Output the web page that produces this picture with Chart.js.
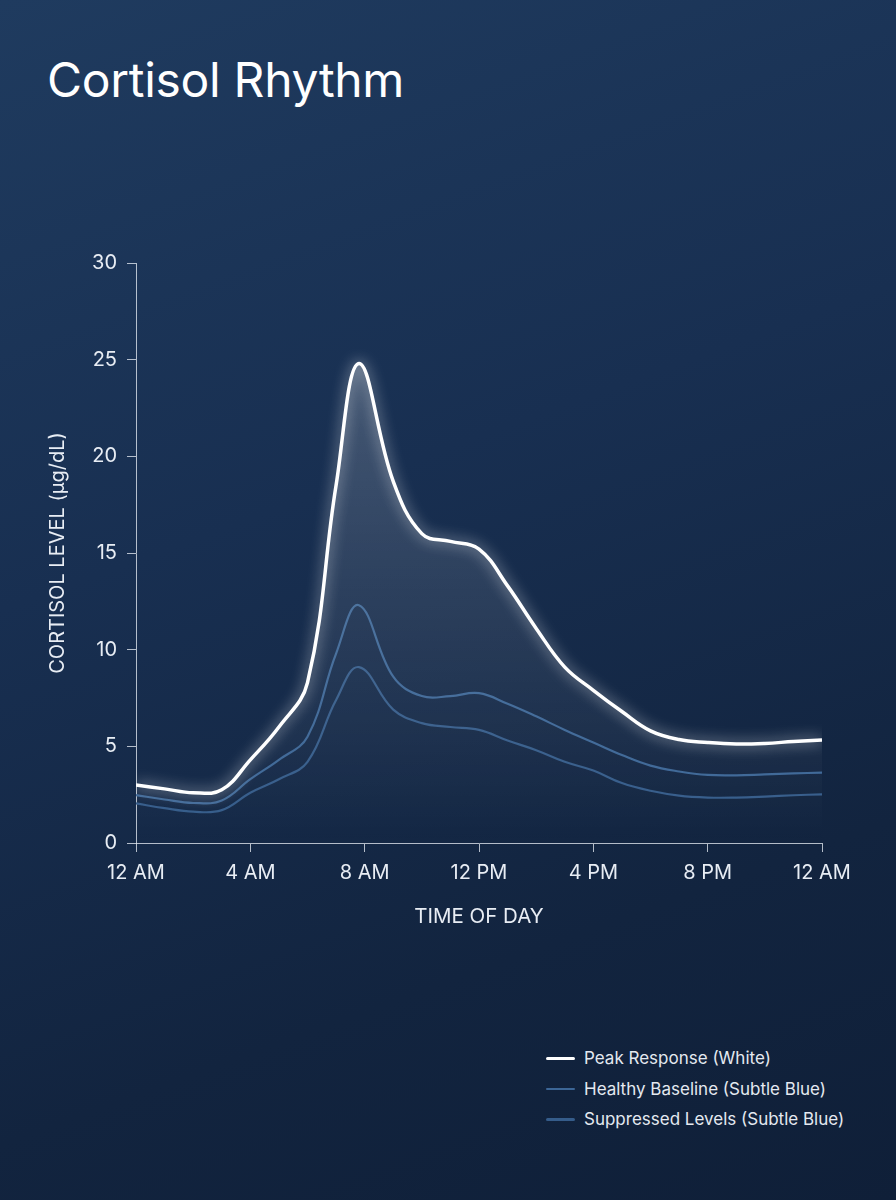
<!DOCTYPE html>
<html>
<head>
<meta charset="utf-8">
<title>Cortisol Rhythm</title>
<script src="https://cdn.jsdelivr.net/npm/chart.js@4.4.1/dist/chart.umd.min.js"></script>
<style>
  html, body {
    margin: 0;
    padding: 0;
    width: 896px;
    height: 1200px;
    overflow: hidden;
  }
  body {
    position: relative;
    font-family: "Inter", "Noto Sans", sans-serif;
    background: linear-gradient(160deg, #1f3b5f 0%, #182f51 40%, #12243f 75%, #0f1f38 100%);
  }
  h1 {
    position: absolute;
    left: 47px;
    top: 56px;
    margin: 0;
    font-size: 48px;
    line-height: 1;
    font-weight: 400;
    color: #ffffff;
    letter-spacing: -0.3px;
  }
  .chart-box {
    position: absolute;
    left: 0;
    top: 0;
    width: 896px;
    height: 1000px;
  }
  #legend {
    position: absolute;
    left: 546px;
    top: 1043px;
    margin: 0;
    padding: 0;
    list-style: none;
  }
  #legend li {
    display: flex;
    align-items: center;
    height: 30.5px;
    font-size: 17px;
    color: #e4e9f0;
  }
  #legend span.swatch {
    display: inline-block;
    width: 29px;
    margin-right: 9px;
    border-radius: 2px;
  }
</style>
</head>
<body>
<h1>Cortisol Rhythm</h1>
<div class="chart-box"><canvas id="cortisol-chart"></canvas></div>
<ul id="legend"></ul>

<script>
  // hours since midnight
  const hours = [0, 1, 2, 3, 4, 5, 6, 7, 7.8, 9, 10, 11, 12, 13, 14, 15, 16, 17, 18, 19, 20, 21, 22, 23, 24];

  const peakResponse    = [3.0, 2.8, 2.6, 2.75, 4.3, 6.0, 8.3, 18.5, 24.8, 18.7, 16.0, 15.6, 15.2, 13.3, 11.1, 9.1, 7.9, 6.8, 5.8, 5.35, 5.2, 5.12, 5.15, 5.25, 5.33];
  const healthyBaseline = [2.48, 2.25, 2.07, 2.2, 3.3, 4.3, 5.5, 9.8, 12.3, 8.6, 7.6, 7.6, 7.75, 7.2, 6.55, 5.85, 5.2, 4.55, 4.0, 3.7, 3.52, 3.5, 3.55, 3.6, 3.64];
  const suppressedLevels = [2.05, 1.8, 1.62, 1.7, 2.6, 3.3, 4.2, 7.4, 9.1, 6.9, 6.2, 6.0, 5.85, 5.3, 4.8, 4.2, 3.75, 3.1, 2.7, 2.45, 2.35, 2.35, 2.4, 2.47, 2.52];

  const timeLabels = ['12 AM', '4 AM', '8 AM', '12 PM', '4 PM', '8 PM', '12 AM'];

  function toPoints(values) {
    return hours.map(function (h, i) { return { x: h, y: values[i] }; });
  }

  // glow on the white line only (fill is drawn before this hook by the filler)
  const glowPlugin = {
    id: 'glow',
    beforeDatasetDraw(chart, args) {
      const ds = chart.data.datasets[args.index];
      if (!ds.glow) return;
      const ctx = chart.ctx;
      ctx.save();
      ctx.shadowColor = 'rgba(255,255,255,0.75)';
      ctx.shadowBlur = 14;
    },
    afterDatasetDraw(chart, args) {
      const ds = chart.data.datasets[args.index];
      if (!ds.glow) return;
      chart.ctx.restore();
    }
  };

  const axisColor = 'rgba(235,240,247,0.75)';
  const textColor = '#e8edf4';

  const canvas = document.getElementById('cortisol-chart');
  const cortisolChart = new Chart(canvas, {
    type: 'line',
    data: {
      datasets: [{
        label: 'Peak Response (White)',
        data: toPoints(peakResponse),
        borderColor: '#ffffff',
        borderWidth: 3.5,
        glow: true,
        fill: 'origin',
        backgroundColor: function (context) {
          const area = context.chart.chartArea;
          if (!area) return 'rgba(255,255,255,0.1)';
          const g = context.chart.ctx.createLinearGradient(0, area.top + 90, 0, area.bottom);
          g.addColorStop(0, 'rgba(255,255,255,0.20)');
          g.addColorStop(0.45, 'rgba(255,255,255,0.10)');
          g.addColorStop(1, 'rgba(255,255,255,0.0)');
          return g;
        },
        tension: 0.4,
        pointRadius: 0,
        order: 0
      }, {
        label: 'Healthy Baseline (Subtle Blue)',
        data: toPoints(healthyBaseline),
        borderColor: '#3c6696',
        borderWidth: 2.2,
        fill: false,
        tension: 0.4,
        pointRadius: 0,
        order: 1
      }, {
        label: 'Suppressed Levels (Subtle Blue)',
        data: toPoints(suppressedLevels),
        borderColor: '#355c8a',
        borderWidth: 2.2,
        fill: false,
        tension: 0.4,
        pointRadius: 0,
        order: 2
      }]
    },
    options: {
      responsive: true,
      maintainAspectRatio: false,
      animation: false,
      layout: {
        padding: { left: 20, right: 74, top: 263, bottom: 57 }
      },
      plugins: {
        legend: { display: false },
        tooltip: { enabled: false }
      },
      scales: {
        x: {
          type: 'linear',
          min: 0,
          max: 24,
          afterFit: function (scale) { scale.height = 100; },
          afterBuildTicks: function (scale) {
            scale.ticks = timeLabels.map(function (t, i) { return { value: i * 4 }; });
          },
          ticks: {
            color: textColor,
            padding: 9,
            maxRotation: 0,
            font: { family: 'Inter', size: 20 },
            callback: function (value) { return timeLabels[value / 4]; }
          },
          grid: {
            drawOnChartArea: false,
            drawTicks: true,
            tickLength: 9,
            color: axisColor
          },
          border: { display: true, color: axisColor, width: 1 },
          title: {
            display: true,
            text: 'TIME OF DAY',
            color: textColor,
            font: { family: 'Inter', size: 20.5 },
            padding: { top: 0, bottom: 14 }
          }
        },
        y: {
          min: 0,
          max: 30,
          afterFit: function (scale) { scale.width = 116; },
          ticks: {
            stepSize: 5,
            color: textColor,
            padding: 10,
            font: { family: 'Inter', size: 20 }
          },
          grid: {
            drawOnChartArea: false,
            drawTicks: true,
            tickLength: 9,
            color: axisColor
          },
          border: { display: true, color: axisColor, width: 1 },
          title: {
            display: true,
            text: 'CORTISOL LEVEL (µg/dL)',
            color: textColor,
            font: { family: 'Inter', size: 20 },
            padding: { top: 26, bottom: 0 }
          }
        }
      }
    },
    plugins: [glowPlugin]
  });

  // legend built from the chart's datasets
  const legend = document.getElementById('legend');
  cortisolChart.data.datasets.forEach(function (ds) {
    const li = document.createElement('li');
    const sw = document.createElement('span');
    sw.className = 'swatch';
    sw.style.background = ds.borderColor;
    sw.style.height = ds.glow ? '3.5px' : '2.5px';
    li.appendChild(sw);
    li.appendChild(document.createTextNode(ds.label));
    legend.appendChild(li);
  });
</script>
</body>
</html>
